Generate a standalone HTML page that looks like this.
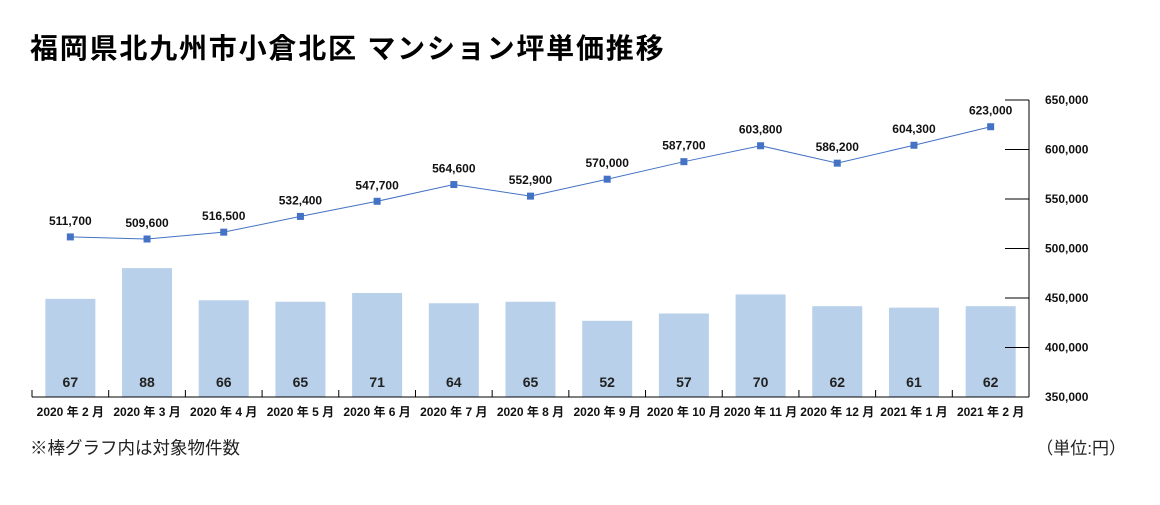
<!DOCTYPE html>
<html><head><meta charset="utf-8"><style>
body{margin:0;background:#fff;width:1160px;height:500px;overflow:hidden;font-family:"Liberation Sans","Noto Sans CJK JP",sans-serif}
</style></head><body>
<svg id="c" width="1160" height="500" xmlns="http://www.w3.org/2000/svg" font-family="Liberation Sans, Noto Sans CJK JP, sans-serif">
<text x="30" y="58" font-size="28" font-weight="bold" letter-spacing="1.8" fill="#000">福岡県北九州市小倉北区 マンション坪単価推移</text>
<text x="30" y="454" font-size="17.5" fill="#222">※棒グラフ内は対象物件数</text>
<text x="1126" y="454" font-size="17" fill="#222" text-anchor="end">（単位:円）</text>
<g id="bars"></g><g id="line"></g><g id="axes"></g>
</svg>
<script>
const categories=["2020 年 2 月","2020 年 3 月","2020 年 4 月","2020 年 5 月","2020 年 6 月","2020 年 7 月","2020 年 8 月","2020 年 9 月","2020 年 10 月","2020 年 11 月","2020 年 12 月","2021 年 1 月","2021 年 2 月"];
const counts=[67,88,66,65,71,64,65,52,57,70,62,61,62];
const prices=[511700,509600,516500,532400,547700,564600,552900,570000,587700,603800,586200,604300,623000];
const yTicks=[350000,400000,450000,500000,550000,600000,650000];
const NS="http://www.w3.org/2000/svg";
const X0=32,X1=1029,Y0=397,Y1=100;
const bw=(X1-X0)/categories.length;
const xc=i=>X0+bw*(i+0.5);
const yP=v=>Y0-(v-350000)/300000*(Y0-Y1);
const yC=n=>Y0-n*1.465;
function mk(t,a,p){const e=document.createElementNS(NS,t);for(const k in a)e.setAttribute(k,a[k]);p.appendChild(e);return e;}
const bars=document.getElementById('bars'),line=document.getElementById('line'),axes=document.getElementById('axes');
counts.forEach((n,i)=>{
 const r=mk('rect',{x:xc(i)-25,y:yC(n),width:50,height:Y0-yC(n),fill:'#b8d0ea'},bars);
 
 
 const t=mk('text',{x:xc(i),y:387,'font-size':14,'font-weight':'bold','text-anchor':'middle',fill:'#222'},bars);
 t.textContent=n;
 
 
});
const pl=mk('polyline',{points:prices.map((v,i)=>xc(i)+','+yP(v)).join(' '),fill:'none',stroke:'#4472c4','stroke-width':1},line);


prices.forEach((v,i)=>{
 const m=mk('rect',{x:xc(i)-3.5,y:yP(v)-3.5,width:7,height:7,fill:'#4472c4'},line);
 
 
 const t=mk('text',{x:xc(i),y:yP(v)-12,'font-size':12,'font-weight':'bold','text-anchor':'middle',fill:'#111'},line);
 t.textContent=v.toLocaleString('en-US');
 
 
});
const xa=mk('line',{x1:X0,y1:Y0,x2:X1,y2:Y0,stroke:'#000','stroke-width':1},axes);


const ya=mk('line',{x1:X1,y1:Y1,x2:X1,y2:Y0,stroke:'#000','stroke-width':1},axes);


for(let i=0;i<categories.length;i++){
 mk('line',{x1:X0+bw*i,y1:Y0-7,x2:X0+bw*i,y2:Y0,stroke:'#000'},axes);
 const t=mk('text',{x:xc(i),y:416,'font-size':12,'font-weight':'bold','text-anchor':'middle',fill:'#111'},axes);
 t.textContent=categories[i];
 
 
}
yTicks.forEach(v=>{
 mk('line',{x1:X1-24,y1:yP(v),x2:X1,y2:yP(v),stroke:'#000'},axes);
 const t=mk('text',{x:1045,y:yP(v)+4,'font-size':12,'font-weight':'bold',fill:'#111'},axes);
 t.textContent=v.toLocaleString('en-US');
 
 
});
</script>
</body></html>
